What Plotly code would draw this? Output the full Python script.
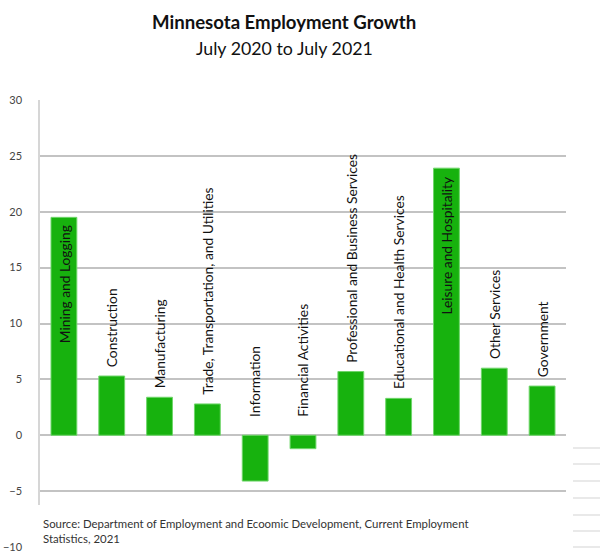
import plotly.graph_objects as go

# data
industries = [
    "Mining and Logging",
    "Construction",
    "Manufacturing",
    "Trade, Transportation, and Utilities",
    "Information",
    "Financial Activities",
    "Professional and Business Services",
    "Educational and Health Services",
    "Leisure and Hospitality",
    "Other Services",
    "Government",
]
growth = [19.5, 5.3, 3.4, 2.8, -4.1, -1.2, 5.7, 3.3, 23.9, 6.0, 4.4]
inside_labels = ["Mining and Logging", "Leisure and Hospitality"]
y_ticks = [-10, -5, 0, 5, 10, 15, 20, 25, 30]

W, H = 600, 556
L, R, T, B = 40, 34, 100, 9
FONT = "Lato"
GRID = "#c3c3c3"


def px_x(px):
    return (px - L) / (W - L - R)


def px_y(py):
    return (H - B - py) / (H - T - B)


fig = go.Figure()
fig.add_trace(
    go.Bar(
        x=industries,
        y=growth,
        marker=dict(color="#17b20e", line=dict(color="#6fd66a", width=1)),
        hoverinfo="x+y",
    )
)

# rotated category labels, like the excel data labels
for name, val in zip(industries, growth):
    if name in inside_labels:
        fig.add_annotation(x=name, y=val, yanchor="top", yshift=-6, text=name,
                           textangle=-90, showarrow=False, font=dict(size=13.8, color="#111111"))
    else:
        base = max(val, 0)
        shift = 7 if val > 0 else 16
        fig.add_annotation(x=name, y=base, yanchor="bottom", yshift=shift, text=name,
                           textangle=-90, showarrow=False, font=dict(size=13.8, color="#111111"))

# title
fig.add_annotation(xref="paper", yref="paper", x=px_x(284), y=px_y(22), text="<b>Minnesota Employment Growth</b>",
                   showarrow=False, font=dict(size=18.6, color="#111111"), xanchor="center", yanchor="middle")
fig.add_annotation(xref="paper", yref="paper", x=px_x(284), y=px_y(48), text="July 2020 to July 2021",
                   showarrow=False, font=dict(size=17.8, color="#111111"), xanchor="center", yanchor="middle")

# white box over the bottom of the plot, with the source note
fig.add_shape(type="rect", xref="paper", yref="paper", x0=px_x(36), x1=px_x(495), y0=px_y(556), y1=px_y(505),
              fillcolor="white", line=dict(width=0), layer="above")
fig.add_annotation(xref="paper", yref="paper", x=px_x(41), y=px_y(523), xanchor="left", yanchor="middle",
                   text="Source: Department of Employment and Ecoomic Development, Current Employment",
                   showarrow=False, font=dict(size=11.4, color="#333333"))
fig.add_annotation(xref="paper", yref="paper", x=px_x(41), y=px_y(538), xanchor="left", yanchor="middle",
                   text="Statistics, 2021", showarrow=False, font=dict(size=11.4, color="#333333"))

# stray table lines at the bottom right
for py in [448, 464, 481, 498, 515, 531, 547]:
    fig.add_shape(type="line", xref="paper", yref="paper", x0=px_x(573), x1=px_x(600), y0=px_y(py), y1=px_y(py),
                  line=dict(color="#e2e2e2", width=1.5), layer="above")

fig.update_layout(
    width=W,
    height=H,
    margin=dict(l=L, r=R, t=T, b=B),
    paper_bgcolor="white",
    plot_bgcolor="white",
    bargap=0.46,
    showlegend=False,
    font=dict(family=FONT),
)
fig.update_xaxes(showticklabels=False, showgrid=False, ticks="", zeroline=False, showline=False, automargin=False)
fig.update_yaxes(
    range=[-10, 30],
    tickvals=y_ticks,
    showgrid=True,
    gridcolor=GRID,
    gridwidth=1.5,
    zeroline=True,
    zerolinecolor=GRID,
    zerolinewidth=1.5,
    showline=True,
    linecolor="#d6d6d6",
    linewidth=1.5,
    ticks="",
    ticklabelstandoff=14,
    tickfont=dict(size=11, color="#444444"),
    automargin=False,
)

# drop the default body margin so the figure fills the window
fig.write_html(
    "out.html",
    config={"displayModeBar": False},
    post_script="document.body.style.margin='0';document.body.style.overflow='hidden';",
)
